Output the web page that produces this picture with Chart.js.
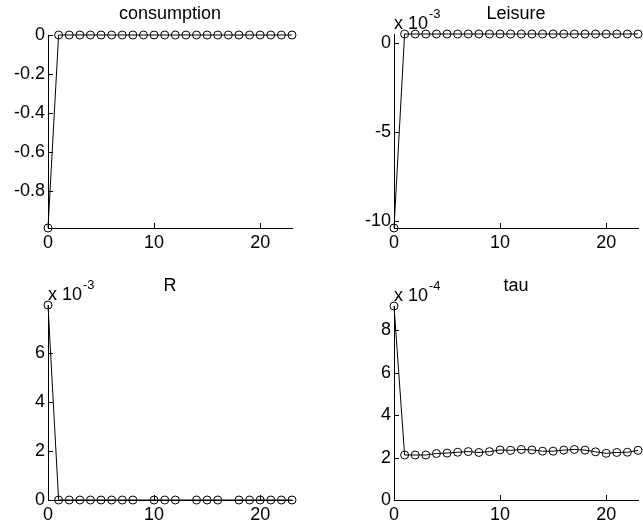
<!DOCTYPE html>
<html>
<head>
<meta charset="utf-8">
<title>impulse responses</title>
<script src="https://cdn.jsdelivr.net/npm/chart.js@4.4.0/dist/chart.umd.min.js"></script>
<style>
    html, body { margin: 0; padding: 0; background: #fff; }
    #wrap { position: relative; width: 643px; height: 529px; }
    #wrap canvas { position: absolute; left: 0; top: 0; width: 643px; height: 529px; }
</style>
</head>
<body>
<div id="wrap">
    <canvas id="c1" width="643" height="529"></canvas>
    <canvas id="c2" width="643" height="529"></canvas>
    <canvas id="c3" width="643" height="529"></canvas>
    <canvas id="c4" width="643" height="529"></canvas>
</div>
<script>
// periods after the shock
const periods = [0, 1, 2, 3, 4, 5, 6, 7, 8, 9, 10, 11, 12, 13, 14, 15, 16, 17, 18, 19, 20, 21, 22, 23];
const xTicks = [0, 10, 20];

const consumption = [-0.99, 0, 0, 0, 0, 0, 0, 0, 0, 0, 0, 0, 0, 0, 0, 0, 0, 0, 0, 0, 0, 0, 0, 0];
const leisure = [-0.0104, 0.00052, 0.00052, 0.00052, 0.00052, 0.00052, 0.00052, 0.00052, 0.00052, 0.00052,
    0.00052, 0.00052, 0.00052, 0.00052, 0.00052, 0.00052, 0.00052, 0.00052, 0.00052, 0.00052,
    0.00052, 0.00052, 0.00052, 0.00052];
// the few values a hair below zero fall outside the axis, so their markers are not drawn
const rate = [0.00794, 0, 0, 0, 0, 0, 0, 0, 0, -0.000001, 0, 0, 0, -0.000001, 0, 0, 0, -0.000001,
    0, 0, 0, 0, 0, 0];
const tau = [0.000914, 0.000212, 0.000212, 0.000212, 0.000219, 0.000221, 0.000225, 0.000228, 0.000224, 0.000228,
    0.000236, 0.000234, 0.000238, 0.000236, 0.000230, 0.000230, 0.000235, 0.000238, 0.000235, 0.000227,
    0.000220, 0.000224, 0.000225, 0.000234];

const consumptionTicks = [-0.8, -0.6, -0.4, -0.2, 0];
const consumptionLabels = ['-0.8', '-0.6', '-0.4', '-0.2', '0'];
const leisureTicks = [-0.01, -0.005, 0];
const leisureLabels = ['-10', '-5', '0'];
const rateTicks = [0, 0.002, 0.004, 0.006];
const rateLabels = ['0', '2', '4', '6'];
const tauTicks = [0, 0.0002, 0.0004, 0.0006, 0.0008];
const tauLabels = ['0', '2', '4', '6', '8'];

const W = 643, H = 529;
const Y_W = 40, X_H = 30;
const FONT = '"Liberation Sans", Arial, Helvetica, sans-serif';

// title, "x 10^n" factor and MATLAB-like inward tick marks
const subplotText = {
    id: 'subplotText',
    afterDraw(chart, args, opts) {
        const ctx = chart.ctx;
        const a = chart.chartArea;
        const sx = chart.scales.x, sy = chart.scales.y;
        ctx.save();
        ctx.strokeStyle = '#000';
        ctx.lineWidth = 1;
        ctx.beginPath();
        sx.ticks.forEach(t => {
            const px = Math.round(sx.getPixelForValue(t.value)) + 0.5;
            ctx.moveTo(px, a.bottom);
            ctx.lineTo(px, a.bottom - 5);
        });
        sy.ticks.forEach(t => {
            const py = Math.round(sy.getPixelForValue(t.value)) + 0.5;
            ctx.moveTo(a.left, py);
            ctx.lineTo(a.left + 5, py);
        });
        ctx.stroke();

        ctx.fillStyle = '#000';
        ctx.textBaseline = 'alphabetic';
        ctx.font = '18px ' + FONT;
        ctx.textAlign = 'center';
        ctx.fillText(opts.title, (a.left + a.right) / 2, opts.titleY);

        if (opts.expo) {
            const base = a.top - 5.5;
            ctx.textAlign = 'left';
            ctx.fillText('x 10', a.left, base);
            const w = ctx.measureText('x 10').width;
            ctx.font = '13px ' + FONT;
            ctx.fillText(opts.expo, a.left + w + 1, base - 11);
        }
        ctx.restore();
    }
};

function makeSubplot(id, values, yMin, yMax, yTicks, yLabels, title, expo, area) {
    const ctx = document.getElementById(id).getContext('2d');
    const tickFont = { family: FONT, size: 18 };
    return new Chart(ctx, {
        type: 'line',
        data: {
            datasets: [{
                data: periods.map((p, i) => ({ x: p, y: values[i] })),
                borderColor: '#000',
                borderWidth: 1,
                tension: 0,
                clip: false,
                pointStyle: 'circle',
                pointRadius: c => (c.parsed && c.parsed.y < yMin ? 0 : 4),
                pointBorderColor: '#000',
                pointBackgroundColor: 'rgba(0,0,0,0)',
                pointBorderWidth: 1
            }]
        },
        options: {
            responsive: false,
            animation: false,
            events: [],
            layout: {
                autoPadding: false,
                padding: {
                    left: area.left - Y_W,
                    top: area.top,
                    right: W - area.right,
                    bottom: H - area.bottom - X_H
                }
            },
            plugins: {
                legend: { display: false },
                tooltip: { enabled: false },
                title: { display: false },
                subplotText: { title: title, expo: expo, titleY: area.titleY }
            },
            scales: {
                x: {
                    type: 'linear',
                    min: 0,
                    max: 23,
                    afterFit: s => { s.height = X_H; },
                    afterBuildTicks: s => { s.ticks = xTicks.map(v => ({ value: v })); },
                    grid: { display: false, drawTicks: false },
                    border: { display: true, color: '#000', width: 1 },
                    ticks: {
                        color: '#000', font: tickFont, padding: 4,
                        maxRotation: 0, autoSkip: false,
                        callback: v => String(v)
                    }
                },
                y: {
                    type: 'linear',
                    min: yMin,
                    max: yMax,
                    afterFit: s => { s.width = Y_W; },
                    afterBuildTicks: s => { s.ticks = yTicks.map(v => ({ value: v })); },
                    grid: { display: false, drawTicks: false },
                    border: { display: true, color: '#000', width: 1 },
                    ticks: {
                        color: '#000', font: tickFont, padding: 3,
                        autoSkip: false,
                        callback: (v, i) => yLabels[i]
                    }
                }
            }
        },
        plugins: [subplotText]
    });
}

makeSubplot('c1', consumption, -0.99, 0, consumptionTicks, consumptionLabels, 'consumption', null,
    { left: 48, top: 35, right: 292, bottom: 228, titleY: 18.5 });
makeSubplot('c2', leisure, -0.0104, 0.00052, leisureTicks, leisureLabels, 'Leisure', '-3',
    { left: 394, top: 34, right: 638, bottom: 228, titleY: 18.5 });
makeSubplot('c3', rate, 0, 0.00794, rateTicks, rateLabels, 'R', '-3',
    { left: 48, top: 305, right: 292, bottom: 500, titleY: 290.5 });
makeSubplot('c4', tau, 0, 0.000914, tauTicks, tauLabels, 'tau', '-4',
    { left: 394, top: 306, right: 638, bottom: 500, titleY: 290.5 });
</script>
</body>
</html>
